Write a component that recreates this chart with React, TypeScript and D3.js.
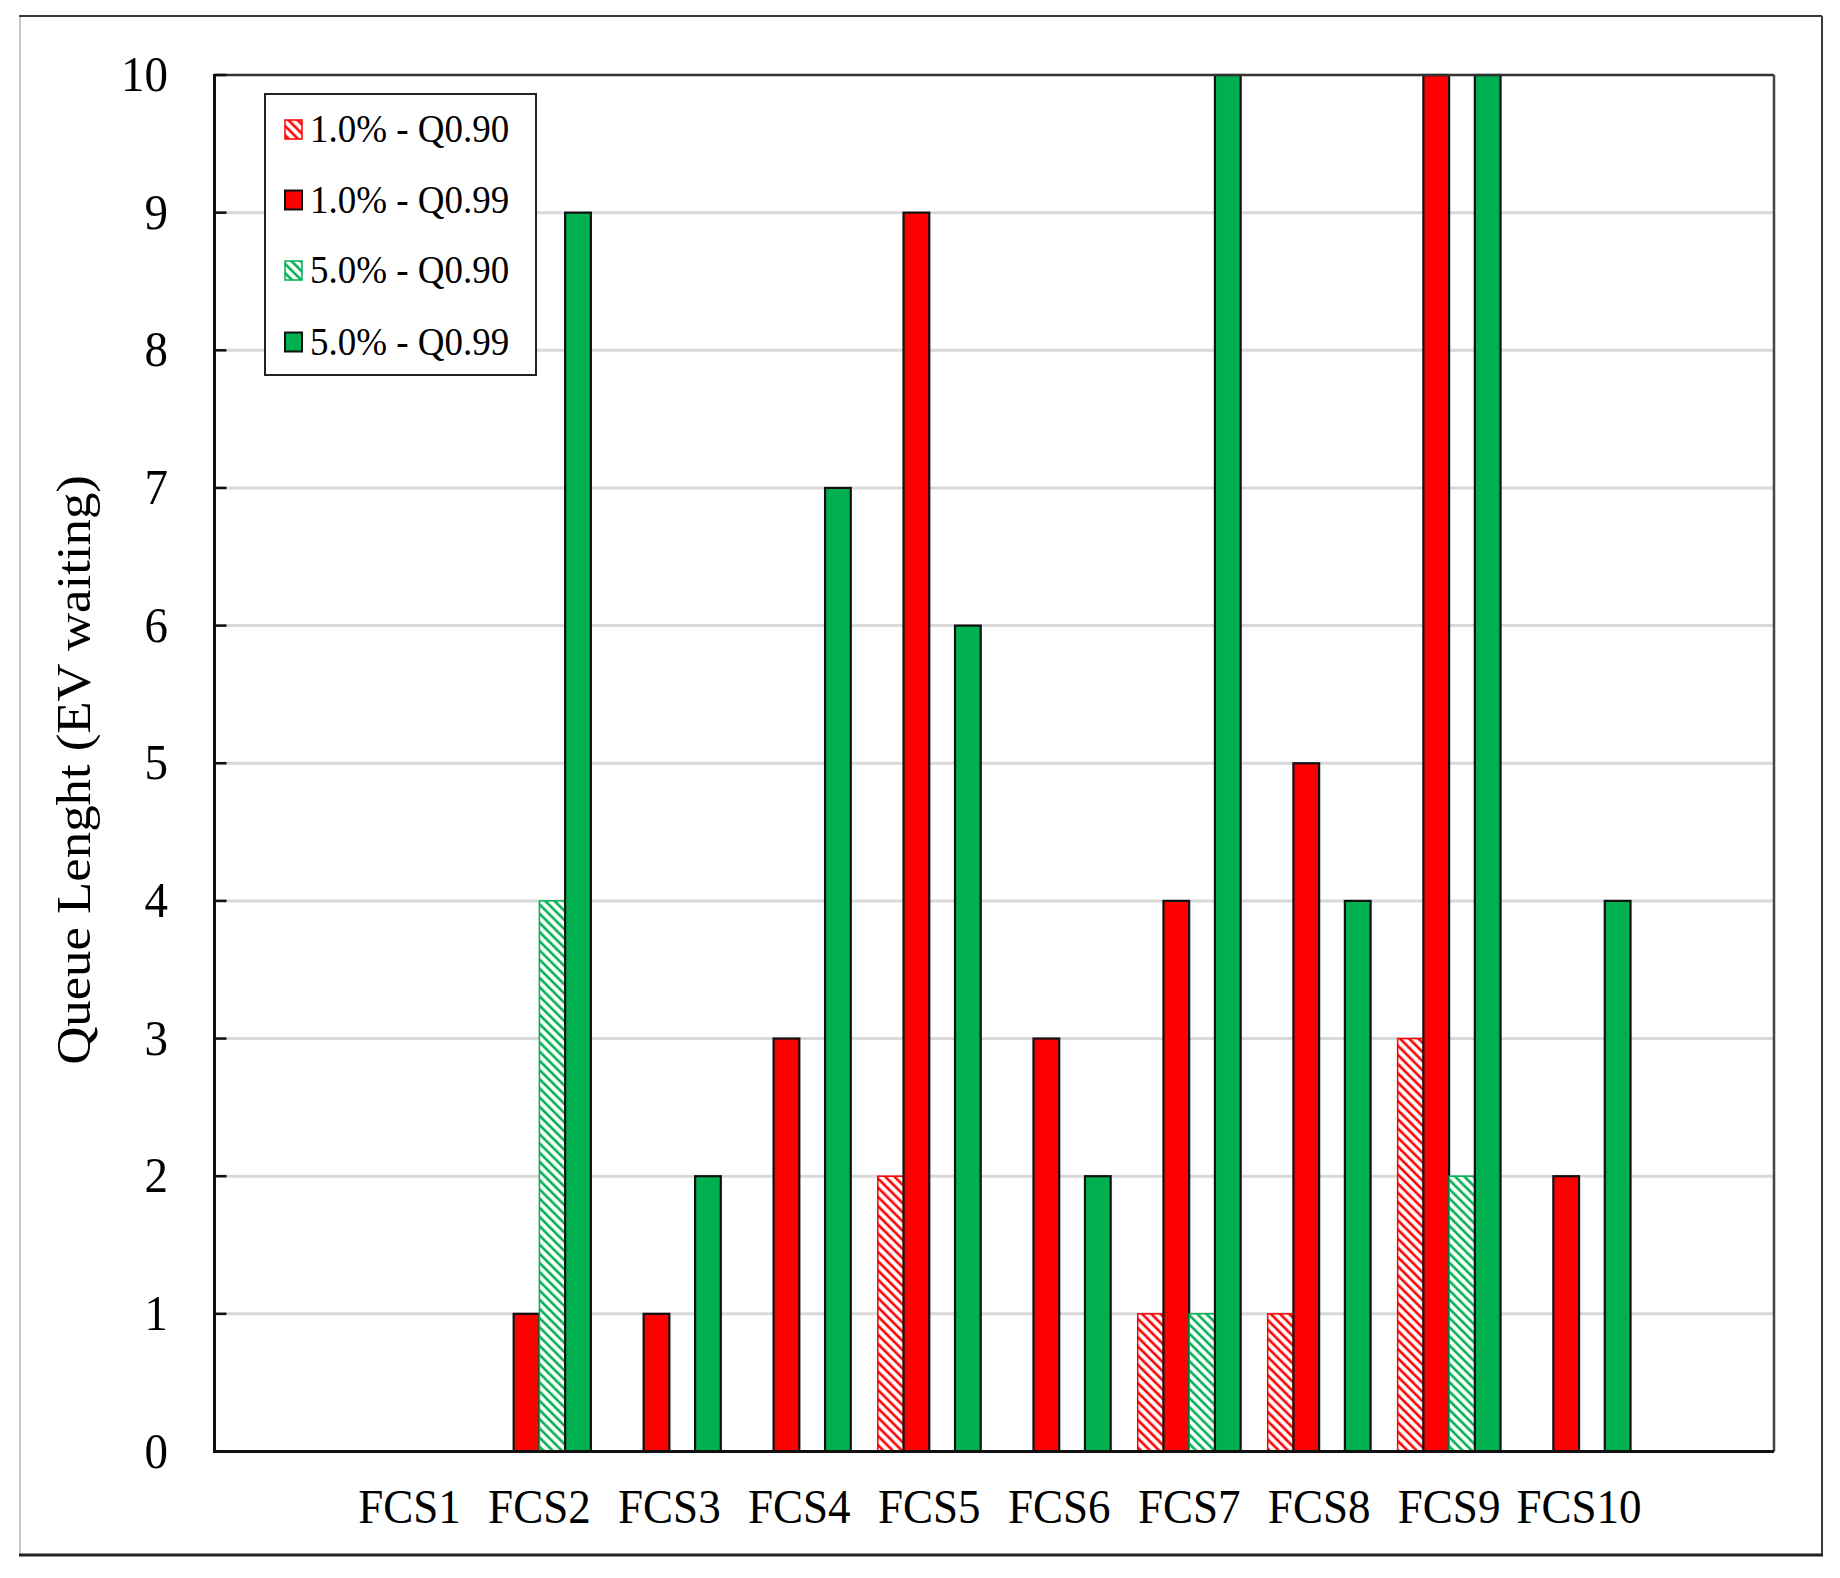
import React from "react";
import * as d3 from "d3";

const categories = ["FCS1", "FCS2", "FCS3", "FCS4", "FCS5", "FCS6", "FCS7", "FCS8", "FCS9", "FCS10"];
const seriesNames = ["1.0% - Q0.90", "1.0% - Q0.99", "5.0% - Q0.90", "5.0% - Q0.99"];
const red90 = [0, 0, 0, 0, 2, 0, 1, 1, 3, 0];
const red99 = [0, 1, 1, 3, 9, 3, 4, 5, 10, 2];
const green90 = [0, 4, 0, 0, 0, 0, 1, 0, 2, 0];
const green99 = [0, 9, 2, 7, 6, 2, 10, 4, 10, 4];
const yTicks = [0, 1, 2, 3, 4, 5, 6, 7, 8, 9, 10];

const seriesValues = [red90, red99, green90, green99];
const seriesColors = ["#ff0000", "#ff0000", "#00b050", "#00b050"];
const seriesHatched = [true, false, true, false];

const W = 1840;
const H = 1578;
const FONT = "'Liberation Serif', 'Times New Roman', serif";
const SY = 1.1;

const M = { left: 214.5, right: 1774, top: 75, bottom: 1451.5 };

function T(props: {
  x: number;
  y: number;
  size: number;
  anchor?: string;
  rotate?: number;
  children: React.ReactNode;
  sy?: number;
}) {
  const { x, y, size, anchor = "start", rotate = 0, children, sy = SY } = props;
  const tr = rotate
    ? `translate(${x},${y}) rotate(${rotate}) scale(${sy},1)`
    : `translate(${x},${y}) scale(1,${sy})`;
  return (
    <text
      transform={tr}
      fontFamily={FONT}
      fontSize={size}
      textAnchor={anchor}
      fill="#000"
    >
      {children}
    </text>
  );
}

export default function App() {
  const slots = d3.range(12).map(String);
  const x = d3.scaleBand<string>().domain(slots).range([M.left, M.right]).padding(0);
  const bw = x.bandwidth();
  const groupW = bw * 0.792;
  const xs = d3
    .scaleBand<string>()
    .domain(seriesNames)
    .range([-groupW / 2, groupW / 2])
    .padding(0);
  const y = d3.scaleLinear().domain([0, 10]).range([M.bottom, M.top]);

  const catX = (i: number) => (x(String(i + 1)) as number) + bw / 2;

  const legendY = [129, 199.5, 270, 341.5];

  return (
    <svg
      width={W}
      height={H}
      style={{ position: "absolute", left: 0, top: 0, background: "#fff" }}
    >
      <defs>
        {seriesColors.map((c, i) =>
          seriesHatched[i] ? (
            <pattern
              key={i}
              id={`hatch${i}`}
              patternUnits="userSpaceOnUse"
              width={6.5}
              height={6.5}
              patternTransform="rotate(-45)"
            >
              <rect width={6.5} height={6.5} fill="#fff" />
              <line x1={2} y1={0} x2={2} y2={6.5} stroke={c} strokeWidth={2.6} />
            </pattern>
          ) : null
        )}
      </defs>
      <rect x={0} y={0} width={W} height={H} fill="#fff" />

      {/* outer frame */}
      <line x1={20} y1={16} x2={20} y2={1555} stroke="#c8c8c8" strokeWidth={2} />
      <line x1={19} y1={16} x2={1822} y2={16} stroke="#3a3a3a" strokeWidth={2} />
      <line x1={1822} y1={16} x2={1822} y2={1555} stroke="#3a3a3a" strokeWidth={2} />
      <line x1={19} y1={1555} x2={1823} y2={1555} stroke="#222" strokeWidth={3} />

      {/* gridlines */}
      {yTicks
        .filter((t) => t > 0 && t < 10)
        .map((t) => (
          <line
            key={t}
            x1={M.left}
            x2={M.right}
            y1={y(t)}
            y2={y(t)}
            stroke="#d9d9d9"
            strokeWidth={3}
          />
        ))}

      {/* bars */}
      {seriesNames.map((s, si) =>
        seriesValues[si].map((v, ci) => {
          if (!v) return null;
          const bx = catX(ci) + (xs(s) as number);
          const by = y(v);
          const hatched = seriesHatched[si];
          return (
            <rect
              key={`${si}-${ci}`}
              x={bx}
              y={by}
              width={xs.bandwidth()}
              height={y(0) - by}
              fill={hatched ? `url(#hatch${si})` : seriesColors[si]}
              stroke={hatched ? seriesColors[si] : "#111"}
              strokeWidth={hatched ? 1.5 : 2.2}
            />
          );
        })
      )}

      {/* plot border */}
      <line x1={M.left} y1={M.top} x2={M.right} y2={M.top} stroke="#333" strokeWidth={2.5} />
      <line x1={M.right} y1={M.top} x2={M.right} y2={M.bottom} stroke="#444" strokeWidth={2.5} />
      <line x1={M.left} y1={M.top - 1} x2={M.left} y2={M.bottom + 1.5} stroke="#111" strokeWidth={3} />
      <line x1={M.left - 1.5} y1={M.bottom} x2={M.right} y2={M.bottom} stroke="#111" strokeWidth={3} />

      {/* y ticks */}
      {yTicks.map((t) => (
        <g key={t}>
          <line x1={M.left} x2={M.left + 12} y1={y(t)} y2={y(t)} stroke="#111" strokeWidth={2.5} />
          <T x={168} y={y(t) + 16} size={47} anchor="end">
            {t}
          </T>
        </g>
      ))}

      {/* x labels */}
      {categories.map((c, i) => (
        <T key={c} x={catX(i)} y={1523} size={45} anchor="middle">
          {c}
        </T>
      ))}

      {/* y axis title */}
      <T x={90} y={770} size={48} anchor="middle" rotate={-90} sy={1.1}>
        Queue Lenght (EV waiting)
      </T>

      {/* legend */}
      <rect x={265} y={94} width={271} height={281} fill="#fff" stroke="#222" strokeWidth={2} />
      {seriesNames.map((s, i) => (
        <g key={s}>
          <rect
            x={285}
            y={legendY[i] - 9}
            width={17}
            height={19}
            fill={seriesHatched[i] ? `url(#hatch${i})` : seriesColors[i]}
            stroke={seriesHatched[i] ? seriesColors[i] : "#111"}
            strokeWidth={seriesHatched[i] ? 1.5 : 2}
          />
          <T x={310} y={legendY[i] + 13} size={37}>
            {s}
          </T>
        </g>
      ))}
    </svg>
  );
}
